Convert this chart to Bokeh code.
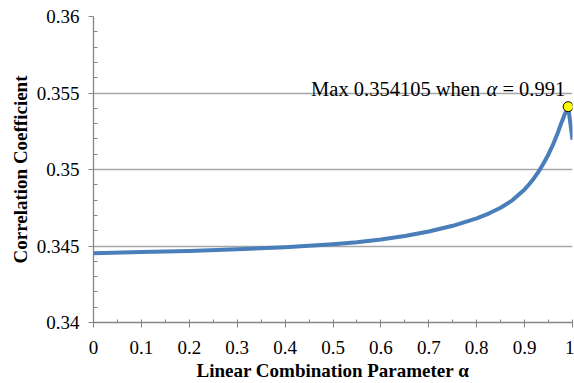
import numpy as np
from bokeh.plotting import figure
from bokeh.models import FixedTicker, CustomJSTickFormatter, ColumnDataSource, Range1d
from bokeh.core.properties import value
from bokeh.embed import file_html
from bokeh.resources import INLINE

# ---- data ----
alpha = [0.0, 0.1, 0.2, 0.3, 0.4, 0.5, 0.55, 0.6, 0.65, 0.7, 0.75, 0.8, 0.825,
         0.85, 0.875, 0.9, 0.91, 0.92, 0.93, 0.94, 0.95, 0.96, 0.97, 0.975,
         0.98, 0.985, 0.991, 1.0]
corr = [0.34453, 0.34460, 0.34468, 0.34478, 0.34492, 0.34512, 0.34525, 0.34542,
        0.34565, 0.34595, 0.34632, 0.34680, 0.34712, 0.34750, 0.34800, 0.34870,
        0.34905, 0.34945, 0.34990, 0.35042, 0.35100, 0.35168, 0.35245, 0.35290,
        0.35330, 0.35370, 0.354105, 0.35195]

x_ticks = [0.0, 0.1, 0.2, 0.3, 0.4, 0.5, 0.6, 0.7, 0.8, 0.9, 1.0]
x_minor = [0.05, 0.15, 0.25, 0.35, 0.45, 0.55, 0.65, 0.75, 0.85, 0.95]
y_ticks = [0.34, 0.345, 0.35, 0.355, 0.36]
y_minor = [0.341, 0.342, 0.343, 0.344, 0.346, 0.347, 0.348, 0.349,
           0.351, 0.352, 0.353, 0.354, 0.356, 0.357, 0.358, 0.359]

x_title = "Linear Combination Parameter α"
y_title = "Correlation Coefficient"

FONT = "Liberation Serif"
LINE_COLOR = "#4a7ebb"
GRID_COLOR = "#a6a6a6"
AXIS_COLOR = "#868686"

p = figure(width=574, height=383, output_backend="svg", toolbar_location=None,
           x_range=Range1d(0, 1), y_range=Range1d(0.34, 0.36),
           min_border_left=93, min_border_right=2, min_border_top=16,
           min_border_bottom=61)
p.outline_line_color = None
p.background_fill_color = "white"
p.border_fill_color = "white"

fmt = CustomJSTickFormatter(code="return String(parseFloat(tick.toFixed(4)));")

# x axis
p.xaxis.ticker = FixedTicker(ticks=x_ticks, minor_ticks=x_minor)
p.xaxis.formatter = fmt
p.xaxis.axis_label = x_title
p.xaxis.axis_line_color = AXIS_COLOR
p.xaxis.major_tick_line_color = AXIS_COLOR
p.xaxis.minor_tick_line_color = AXIS_COLOR
p.xaxis.major_tick_in = 3
p.xaxis.major_tick_out = 5
p.xaxis.minor_tick_in = 3
p.xaxis.minor_tick_out = 0
p.xaxis.major_label_standoff = 13
p.xaxis.axis_label_standoff = 3

# y axis
p.yaxis.ticker = FixedTicker(ticks=y_ticks, minor_ticks=y_minor)
p.yaxis.formatter = fmt
p.yaxis.axis_label = y_title
p.yaxis.axis_line_color = AXIS_COLOR
p.yaxis.major_tick_line_color = AXIS_COLOR
p.yaxis.minor_tick_line_color = AXIS_COLOR
p.yaxis.major_tick_in = 0
p.yaxis.major_tick_out = 5
p.yaxis.minor_tick_in = 4
p.yaxis.minor_tick_out = 0
p.yaxis.major_label_standoff = 9
p.yaxis.axis_label_standoff = 3

for ax in (p.xaxis, p.yaxis):
    ax.major_label_text_font = FONT
    ax.major_label_text_font_size = "19px"
    ax.major_label_text_color = "black"
    ax.axis_label_text_font = FONT
    ax.axis_label_text_font_size = "19px"
    ax.axis_label_text_font_style = "bold"
    ax.axis_label_text_color = "black"
    ax.axis_line_width = 1.3

p.xgrid.visible = False
p.ygrid.ticker = FixedTicker(ticks=y_ticks)
p.ygrid.grid_line_color = GRID_COLOR
p.ygrid.grid_line_width = 1.3

src = ColumnDataSource(dict(x=alpha, y=corr))
p.line("x", "y", source=src, line_color=LINE_COLOR, line_width=4,
       line_join="round")

i_max = int(np.argmax(corr))
a_max, c_max = alpha[i_max], corr[i_max]
p.scatter([a_max], [c_max], size=10, fill_color="#ffff00", line_color="black",
          line_width=1)

# annotation in three pieces so the alpha can be italic
parts = [f"Max {c_max:.6f} when", "α", f"= {a_max:.3f}"]
offsets = [-88, -71, -3]
styles = ["normal", "italic", "normal"]
for t, dx, st in zip(parts, offsets, styles):
    p.text(x=[a_max], y=[c_max], text=[t], x_offset=dx, y_offset=-18,
           text_align="right", text_baseline="alphabetic",
           text_font=value(FONT), text_font_size="20.5px", text_font_style=st,
           text_color="black")

open("out.html", "w").write(file_html(p, INLINE))
